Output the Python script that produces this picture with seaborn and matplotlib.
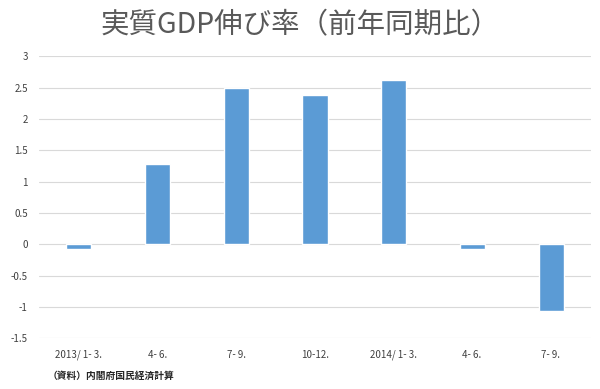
import matplotlib
matplotlib.use('Agg')
import matplotlib.pyplot as plt
import pandas as pd
import seaborn as sns

quarters = ['2013/ 1- 3.', '4- 6.', '7- 9.', '10-12.', '2014/ 1- 3.', '4- 6. ', '7- 9. ']
growth = [-0.08, 1.29, 2.49, 2.39, 2.63, -0.07, -1.07]
yticks = [3, 2.5, 2, 1.5, 1, 0.5, 0, -0.5, -1, -1.5]

sns.set_theme(style='white')
plt.rcParams['font.family'] = ['Noto Sans CJK JP', 'DejaVu Sans']

df = pd.DataFrame({'quarter': quarters, 'growth': growth})

fig = plt.figure(figsize=(6, 3.89), dpi=100)
ax = fig.add_axes([0.065, 0.13, 0.92, 0.725])

sns.barplot(data=df, x='quarter', y='growth', color='#5B9BD5', width=0.32,
            saturation=1, ax=ax, zorder=3)

ax.set_ylim(-1.5, 3)
ax.set_yticks(yticks)
ax.set_yticklabels([f'{t:g}' for t in yticks])
ax.yaxis.grid(True, color='#D9D9D9', linewidth=0.8, zorder=0)
ax.set_axisbelow(True)
sns.despine(ax=ax, left=True, bottom=True, top=True, right=True)
ax.tick_params(axis='both', length=0, labelsize=7, colors='#404040', pad=8)
ax.set_xlabel('')
ax.set_ylabel('')

fig.text(0.5, 0.935, '実質GDP伸び率（前年同期比）', ha='center', va='center',
         fontsize=20.5, color='#595959')
fig.text(0.08, 0.033, '（資料）内閣府国民経済計算', ha='left', va='center',
         fontsize=7, color='#262626', fontweight='bold')

fig.savefig('out.png', dpi=100)
